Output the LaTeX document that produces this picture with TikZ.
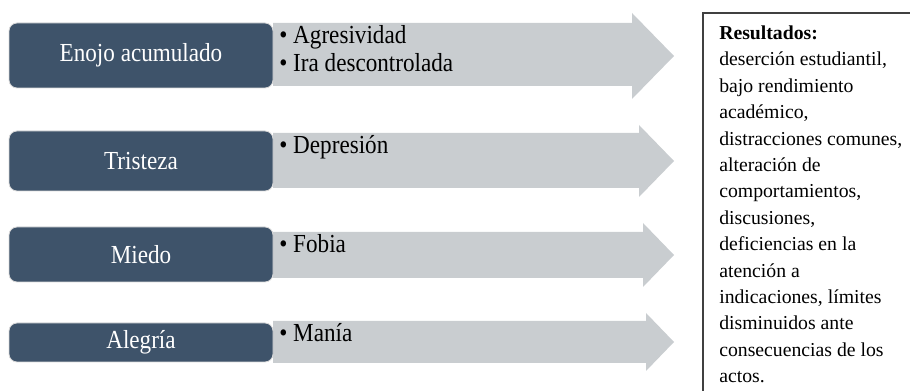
\documentclass[tikz,border=0pt]{standalone}
\usepackage{fontspec}
\setmainfont{Liberation Serif}
\newfontfamily\narrowserif[FakeStretch=0.89]{Liberation Serif}
\usepackage{tikz}
\usetikzlibrary{positioning}

\definecolor{slate}{RGB}{62,83,106}
\definecolor{arrowgrey}{RGB}{201,205,208}
\definecolor{edgegrey}{RGB}{64,64,64}

\newcommand{\bul}{\makebox[10.5pt][l]{\textbullet}}

\tikzset{
	emobox/.style={fill=slate, draw=white!85!black, line width=0.6pt, rounded corners=6pt, text=white,
		inner sep=0pt, minimum width=198pt, font=\narrowserif\fontsize{19.5pt}{21pt}\selectfont},
	itemtext/.style={inner sep=0pt, align=left, anchor=base west, font=\narrowserif\fontsize{19.5pt}{21pt}\selectfont},
	restext/.style={inner sep=0pt, align=left, anchor=north west, font=\fontsize{14.8pt}{19.8pt}\selectfont}
}

\begin{document}
\begin{tikzpicture}[x=0.75pt, y=-0.75pt]
	\useasboundingbox (0,0) rectangle (910,391);
	% grey arrows
	\fill[arrowgrey] (273,23) -- (632,23) -- (632,13) -- (674,56) -- (632,99) -- (632,86) -- (273,86) -- cycle;
	\fill[arrowgrey] (273,133) -- (639,133) -- (639,125) -- (674,161) -- (639,197) -- (639,188) -- (273,188) -- cycle;
	\fill[arrowgrey] (273,232) -- (643,232) -- (643,223) -- (674,255) -- (643,287) -- (643,278) -- (273,278) -- cycle;
	\fill[arrowgrey] (273,321) -- (646,321) -- (646,313) -- (674,342) -- (646,371) -- (646,363) -- (273,363) -- cycle;
	% emotions
	\node[emobox, minimum height=48.75pt] (enojo) at (141,55.5) {Enojo acumulado};
	\node[emobox, minimum height=45pt] (tristeza) at (141,161) {Tristeza};
	\node[emobox, minimum height=41.25pt] (miedo) at (141,254.5) {Miedo};
	\node[emobox, minimum height=29.25pt] (alegria) at (141,342.5) {Alegría};
	% consequences
	\node[itemtext] (agresividad) at (279,44) {\bul Agresividad};
	\node[itemtext] (ira) at (279,72) {\bul Ira descontrolada};
	\node[itemtext] (depresion) at (279,154) {\bul Depresión};
	\node[itemtext] (fobia) at (279,253) {\bul Fobia};
	\node[itemtext] (mania) at (279,342) {\bul Manía};
	% results box
	\draw[edgegrey, line width=1pt] (703,13) rectangle (940,420);
	\node[restext] (resultados) at (719,25.5) {\textbf{Resultados:}\\deserción estudiantil,\\bajo rendimiento\\académico,\\distracciones comunes,\\alteración de\\comportamientos,\\discusiones,\\deficiencias en la\\atención a\\indicaciones, límites\\disminuidos ante\\consecuencias de los\\actos.};
\end{tikzpicture}
\end{document}
